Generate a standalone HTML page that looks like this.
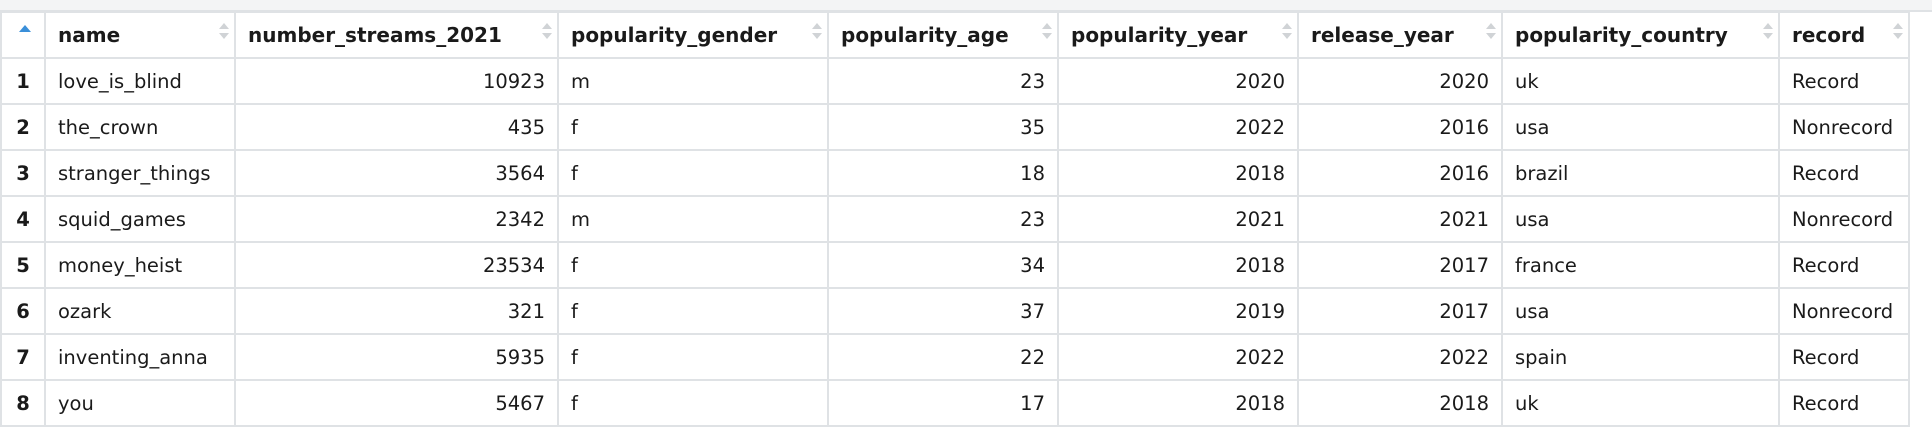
<!DOCTYPE html>
<html><head><meta charset="utf-8"><style>
body{margin:0;width:1932px;height:440px;background:#fff;overflow:hidden;font-family:"DejaVu Sans","Liberation Sans",sans-serif;}
#top{position:absolute;left:0;top:0;width:1932px;height:10px;background:#f3f4f5;border-bottom:2px solid #dfe2e5;}
table{position:absolute;left:0;top:11px;border-collapse:collapse;table-layout:fixed;width:1908px;}
td,th{border:2px solid #dfe2e5;padding:0 12px;white-space:nowrap;overflow:hidden;color:#1a1a1a;}
th{height:44px;font-size:20px;font-weight:bold;text-align:left;position:relative;}
td{height:44px;font-size:19.5px;}
td.n{text-align:right;}
td.i{text-align:center;font-weight:bold;padding:0;}
.s{position:absolute;right:10px;top:10px;width:0;height:0;}
.s:before{content:"";position:absolute;left:-5px;top:0;border:5px solid transparent;border-bottom:6px solid #d0d3d6;border-top:0;}
.s:after{content:"";position:absolute;left:-5px;top:10px;border:5px solid transparent;border-top:6px solid #d0d3d6;border-bottom:0;}
.up{position:absolute;left:17px;top:12px;border:6px solid transparent;border-bottom:7px solid #3a8fd9;border-top:0;}
</style></head><body>
<div id="top"></div>
<table>
<colgroup><col style="width:44px"><col style="width:190px"><col style="width:323px"><col style="width:270px"><col style="width:230px"><col style="width:240px"><col style="width:204px"><col style="width:277px"><col style="width:130px"></colgroup>
<tr>
<th><span class="up"></span></th>
<th>name<span class="s"></span></th>
<th>number_streams_2021<span class="s"></span></th>
<th>popularity_gender<span class="s"></span></th>
<th>popularity_age<span class="s"></span></th>
<th>popularity_year<span class="s"></span></th>
<th>release_year<span class="s"></span></th>
<th>popularity_country<span class="s"></span></th>
<th>record<span class="s"></span></th>
</tr>
<tr><td class="i">1</td><td>love_is_blind</td><td class="n">10923</td><td>m</td><td class="n">23</td><td class="n">2020</td><td class="n">2020</td><td>uk</td><td>Record</td></tr>
<tr><td class="i">2</td><td>the_crown</td><td class="n">435</td><td>f</td><td class="n">35</td><td class="n">2022</td><td class="n">2016</td><td>usa</td><td>Nonrecord</td></tr>
<tr><td class="i">3</td><td>stranger_things</td><td class="n">3564</td><td>f</td><td class="n">18</td><td class="n">2018</td><td class="n">2016</td><td>brazil</td><td>Record</td></tr>
<tr><td class="i">4</td><td>squid_games</td><td class="n">2342</td><td>m</td><td class="n">23</td><td class="n">2021</td><td class="n">2021</td><td>usa</td><td>Nonrecord</td></tr>
<tr><td class="i">5</td><td>money_heist</td><td class="n">23534</td><td>f</td><td class="n">34</td><td class="n">2018</td><td class="n">2017</td><td>france</td><td>Record</td></tr>
<tr><td class="i">6</td><td>ozark</td><td class="n">321</td><td>f</td><td class="n">37</td><td class="n">2019</td><td class="n">2017</td><td>usa</td><td>Nonrecord</td></tr>
<tr><td class="i">7</td><td>inventing_anna</td><td class="n">5935</td><td>f</td><td class="n">22</td><td class="n">2022</td><td class="n">2022</td><td>spain</td><td>Record</td></tr>
<tr><td class="i">8</td><td>you</td><td class="n">5467</td><td>f</td><td class="n">17</td><td class="n">2018</td><td class="n">2018</td><td>uk</td><td>Record</td></tr>
</table>
</body></html>
